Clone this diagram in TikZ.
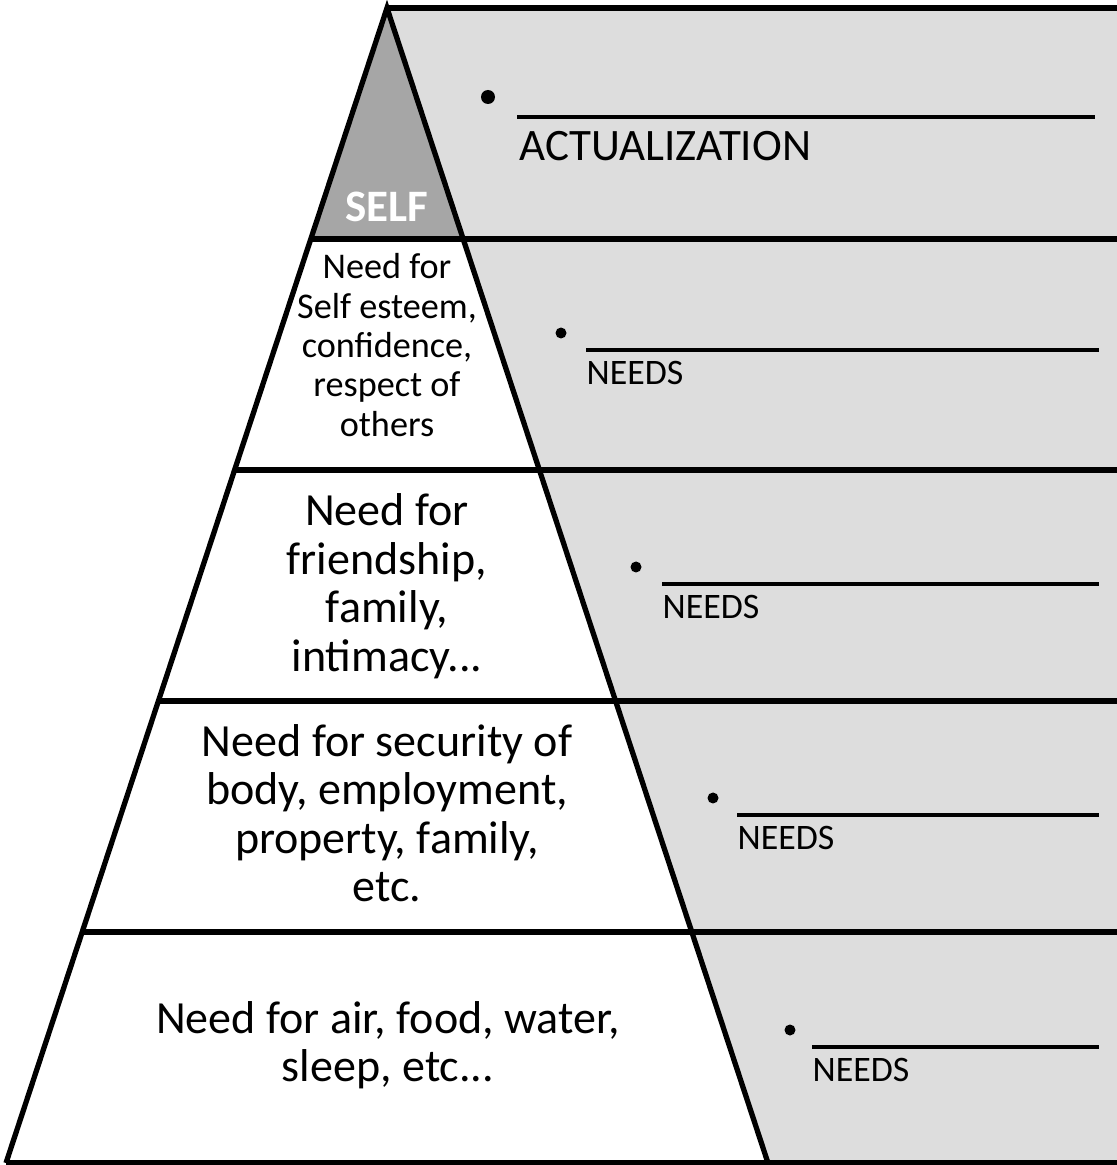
\documentclass[tikz,border=0pt]{standalone}
\usepackage{fontspec}
\setmainfont{Carlito}
\usetikzlibrary{calc}
\definecolor{lightgrey}{HTML}{DDDDDD}
\definecolor{darkgrey}{HTML}{A6A6A6}

\begin{document}
\begin{tikzpicture}[
    tierline/.style={line width=1.5pt},
    blankline/.style={line width=1pt},
    dot/.style={circle, fill=black, inner sep=0pt, minimum size=0.11cm},
    smalltext/.style={align=center, font=\fontsize{10.3}{11.2}\selectfont},
    bigtext/.style={align=center, font=\fontsize{13.1}{13.8}\selectfont},
    needlabel/.style={anchor=west, inner sep=0pt, font=\fontsize{10.2}{12}\selectfont}
]
    \useasboundingbox (0,0) rectangle (11.17,11.65);

    % Pyramid corners
    \coordinate (apex) at (3.87,11.57);
    \coordinate (bl) at (0.06,0.02);
    \coordinate (br) at (7.68,0.02);
    \coordinate (tr) at (11.17,11.57);
    \coordinate (rb) at (11.17,0.02);

    % Shaded areas
    \fill[lightgrey] (apex) -- (tr) -- (rb) -- (br) -- cycle;
    \fill[darkgrey] (apex) -- ($(apex)!0.2!(bl)$) -- ($(apex)!0.2!(br)$) -- cycle;

    % Tiers
    \draw[tierline] (apex) -- (tr);
    \foreach \t in {0.2,0.4,0.6,0.8,1}
        \draw[tierline] ($(apex)!\t!(bl)$) coordinate (lvl) -- (lvl -| tr);
    \draw[tierline] (bl) -- (apex) -- (br);

    % Pyramid texts
    \node[text=white, font=\bfseries\fontsize{12.8}{14}\selectfont] (self) at (3.87,9.58) {SELF};
    \node[smalltext] (esteem) at (3.87,8.20) {Need for\\Self esteem,\\confidence,\\respect of\\others};
    \node[bigtext] (social) at (3.87,5.79) {Need for\\friendship,\\family,\\intimacy...};
    \node[bigtext] (safety) at (3.87,3.52) {Need for security of\\body, employment,\\property, family,\\etc.};
    \node[bigtext] (physio) at (3.88,1.20) {Need for air, food, water,\\sleep, etc...};

    % Blanks
    \node[dot, minimum size=0.14cm] (dot1) at (4.88,10.68) {};
    \coordinate (start1) at (5.17,10.48);
    \draw[blankline] (start1) -- (10.95,10.48);
    \node[needlabel, font=\fontsize{12.8}{14}\selectfont] (actual) at (5.19,10.19) {ACTUALIZATION};
    \foreach \n/\dx/\lx/\ly in {2/5.61/5.86/8.15, 3/6.36/6.62/5.81, 4/7.13/7.37/3.50, 5/7.90/8.12/1.18} {
        \node[dot] (dot\n) at (\dx,\ly+0.17) {};
        \coordinate (start\n) at (\lx,\ly);
        \draw[blankline] (start\n) -- (10.99,\ly);
        \node[needlabel] (needs\n) at (\lx,\ly-0.23) {NEEDS};
    }
\end{tikzpicture}
\end{document}
